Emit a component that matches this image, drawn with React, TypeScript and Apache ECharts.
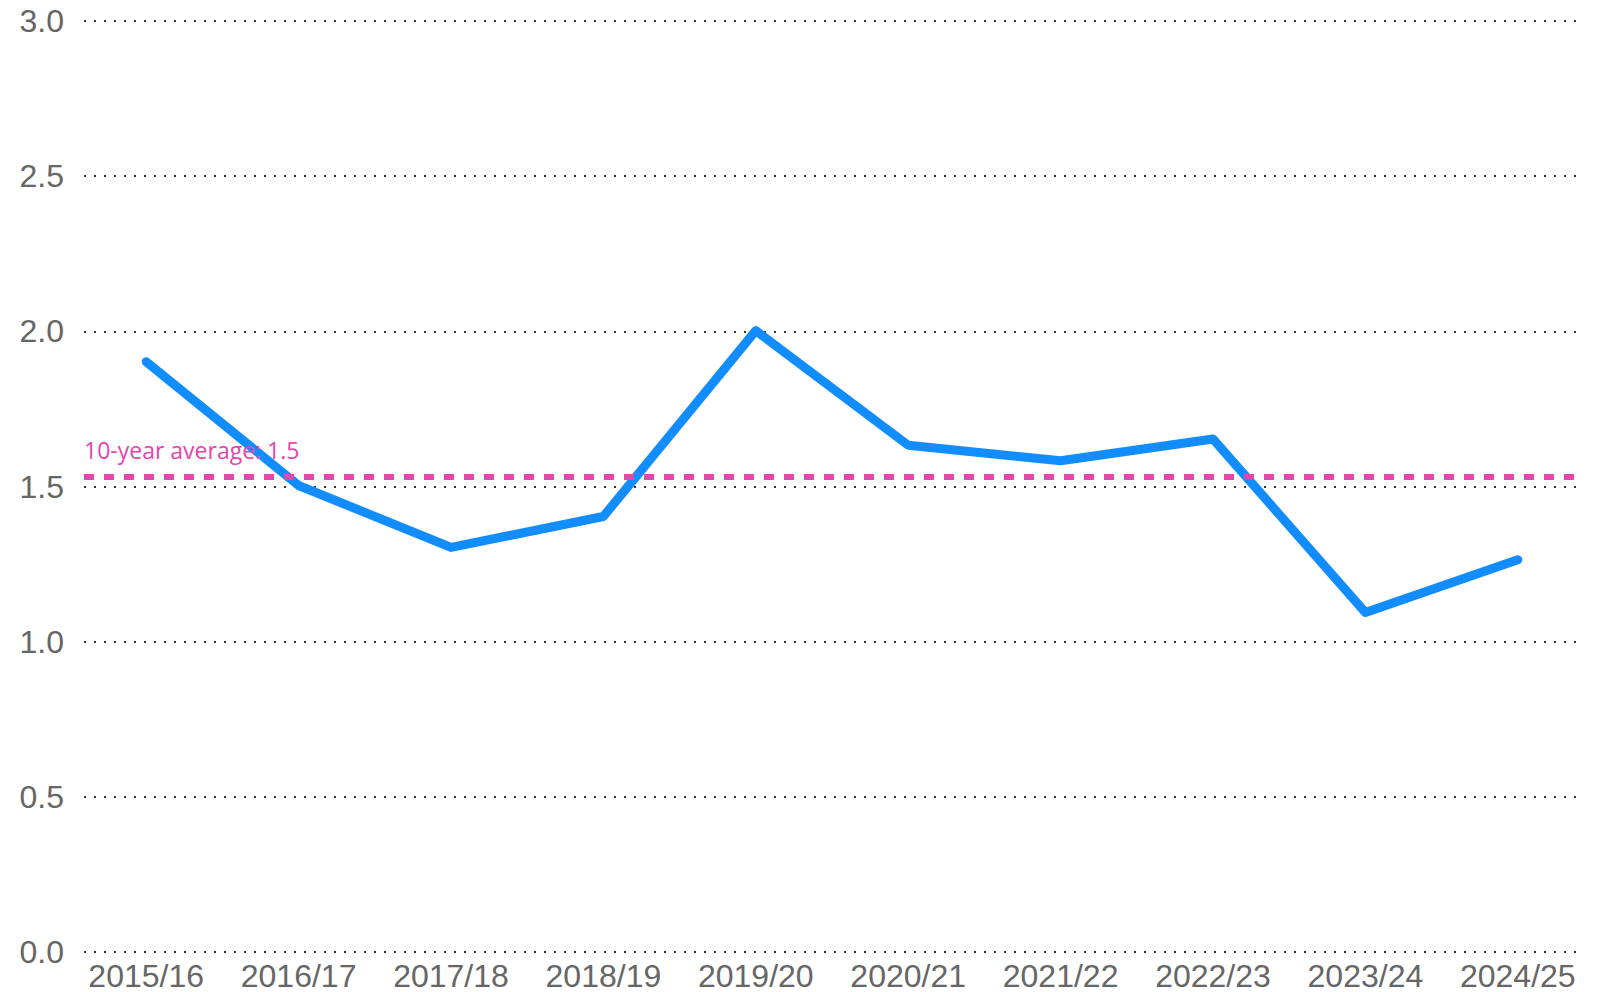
import React, { useEffect, useRef } from "react";
import * as echarts from "echarts";

const categories = ["2015/16", "2016/17", "2017/18", "2018/19", "2019/20", "2020/21", "2021/22", "2022/23", "2023/24", "2024/25"];
const values = [1.9, 1.5, 1.3, 1.4, 2.0, 1.63, 1.58, 1.65, 1.09, 1.26];
const averageValue = 1.531;
const averageLabel = "10-year average: 1.5";
const yMin = 0;
const yMax = 3;
const yInterval = 0.5;

export default function App() {
  const ref = useRef<HTMLDivElement>(null);
  useEffect(() => {
    document.body.style.margin = "0";
    const chart = echarts.init(ref.current!, null, { renderer: "svg" });
    const labelFont = "'Liberation Sans', Arial, sans-serif";
    chart.setOption({
      animation: false,
      backgroundColor: "#ffffff",
      grid: [
        { left: 84, right: 24, top: 21, bottom: 40 },
        { left: 70, right: 7, top: 21, bottom: 40 },
      ],
      xAxis: [
        { type: "category", gridIndex: 0, data: categories, show: false },
        {
          type: "category",
          gridIndex: 1,
          data: categories,
          boundaryGap: true,
          axisLine: { show: false },
          axisTick: { show: false },
          axisLabel: { color: "#666666", fontSize: 32, fontFamily: labelFont, margin: 10, interval: 0 },
        },
      ],
      yAxis: [
        {
          type: "value",
          gridIndex: 0,
          min: yMin,
          max: yMax,
          interval: yInterval,
          axisLine: { show: false },
          axisTick: { show: false },
          axisLabel: {
            color: "#666666",
            fontSize: 32,
            fontFamily: labelFont,
            margin: 20,
            formatter: (v: number) => v.toFixed(1),
          },
          splitLine: { show: true, lineStyle: { color: "#333333", width: 2, type: [2, 8] } },
        },
        { type: "value", gridIndex: 1, min: yMin, max: yMax, interval: yInterval, show: false, splitLine: { show: false } },
      ],
      series: [
        {
          type: "line",
          xAxisIndex: 0,
          yAxisIndex: 0,
          data: [],
          silent: true,
          markLine: {
            symbol: "none",
            silent: true,
            lineStyle: { color: "#E645AB", width: 6, type: [10, 10] },
            label: {
              show: true,
              position: "insideStartTop",
              formatter: averageLabel,
              color: "#E645AB",
              fontSize: 23,
              fontFamily: "'Open Sans', 'Noto Sans', sans-serif",
              distance: [0, 16],
            },
            data: [{ yAxis: averageValue }],
          },
        },
        {
          type: "line",
          xAxisIndex: 1,
          yAxisIndex: 1,
          data: values,
          symbol: "none",
          lineStyle: { color: "#118DFF", width: 9, cap: "round", join: "round" },
          z: 3,
        },
      ],
    });
    return () => chart.dispose();
  }, []);
  return <div ref={ref} style={{ width: 1601, height: 992 }} />;
}
